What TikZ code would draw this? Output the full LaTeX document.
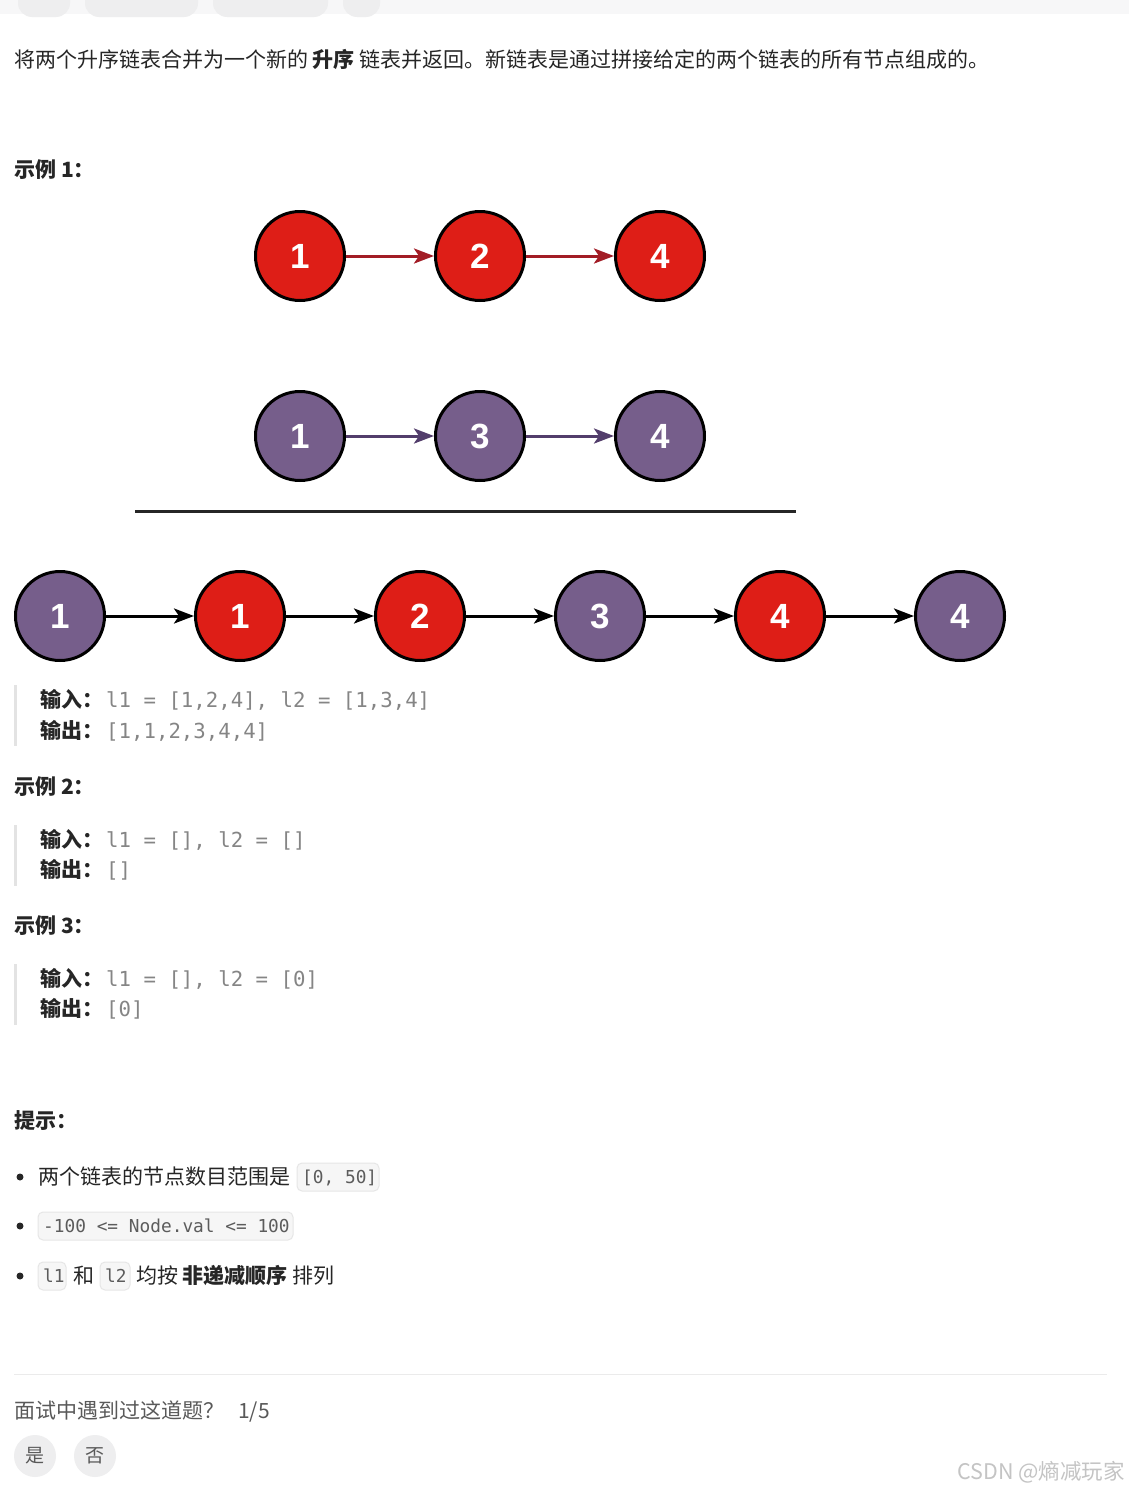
\documentclass[tikz,border=0pt]{standalone}
\usepackage{fontspec}
\setmainfont{Noto Sans CJK SC}
\newfontfamily\cjk{Noto Sans CJK SC}
\newfontfamily\codef{DejaVu Sans Mono}
\newfontfamily\numf{Liberation Sans}
\usetikzlibrary{arrows.meta}
\definecolor{txtc}{HTML}{262626}
\definecolor{qcode}{HTML}{858585}
\definecolor{icode}{HTML}{5C5C5C}
\definecolor{cbox}{HTML}{F6F6F6}
\definecolor{cboxb}{HTML}{E6E6E6}
\definecolor{lred}{HTML}{DE1E17}
\definecolor{lpur}{HTML}{765E8B}
\definecolor{ared}{HTML}{A21C25}
\definecolor{apur}{HTML}{523D6B}
\definecolor{band}{HTML}{F7F7F8}
\definecolor{pill}{HTML}{EEEEEF}
\definecolor{qbar}{HTML}{E3E3E3}
\definecolor{sepc}{HTML}{EBEBEB}
\definecolor{grayt}{HTML}{595959}
\definecolor{wmark}{HTML}{C4C4C4}
\tikzset{
  txt/.style={anchor=base west, inner sep=0pt, text=txtc, font=\cjk\fontsize{21}{24}\selectfont},
  qc/.style={anchor=base west, inner sep=0pt, text=qcode, font=\codef\fontsize{20.7}{24}\selectfont},
  ic/.style={anchor=base west, inner sep=0pt, text=icode, font=\codef\fontsize{17.8}{20}\selectfont},
  cbx/.style={fill=cbox, draw=cboxb, line width=1pt, rounded corners=5pt},
  lnode/.style={circle, minimum size=89pt, inner sep=0pt, draw=black, line width=3pt, text=white, font=\numf\bfseries\fontsize{35}{35}\selectfont},
  rnode/.style={lnode, fill=lred},
  pnode/.style={lnode, fill=lpur},
  arrbase/.style={line width=3pt, -{Stealth[length=20pt,width=15pt,inset=5pt]}},
  rarr/.style={arrbase, draw=ared},
  parr/.style={arrbase, draw=apur},
  karr/.style={arrbase, draw=black},
  qbarst/.style={fill=qbar, draw=none},
  bul/.style={circle, fill=txtc, inner sep=0pt, minimum size=7pt},
}
\begin{document}
\begin{tikzpicture}[x=1pt,y=-1pt]
\useasboundingbox (0,0) rectangle (1129,1491);
\fill[white] (0,0) rectangle (1129,1491);
% top band
\fill[band] (0,0) rectangle (1129,14);
\fill[pill, rounded corners=14pt] (18,-30) rectangle (70,17);
\fill[pill, rounded corners=14pt] (85,-30) rectangle (198,17);
\fill[pill, rounded corners=14pt] (213,-30) rectangle (328,17);
\fill[pill, rounded corners=14pt] (343,-30) rectangle (380,17);
% description
\node[txt] (desc) at (14,67) {将两个升序链表合并为一个新的 \textbf{升序} 链表并返回。新链表是通过拼接给定的两个链表的所有节点组成的。};
\node[txt] (ex1) at (14,177) {\textbf{示例 1：}};
% row 1
\node[rnode] (a1) at (300,256) {1};
\node[rnode] (a2) at (480,256) {2};
\node[rnode] (a3) at (660,256) {4};
\draw[rarr] (a1) -- (a2);
\draw[rarr] (a2) -- (a3);
% row 2
\node[pnode] (b1) at (300,436) {1};
\node[pnode] (b2) at (480,436) {3};
\node[pnode] (b3) at (660,436) {4};
\draw[parr] (b1) -- (b2);
\draw[parr] (b2) -- (b3);
% divider
\coordinate (dl) at (135,511);
\coordinate (dr) at (796,511);
\draw[line width=3pt, draw=black!85] (dl) -- (dr);
% row 3
\node[pnode] (c1) at (60,616) {1};
\node[rnode] (c2) at (240,616) {1};
\node[rnode] (c3) at (420,616) {2};
\node[pnode] (c4) at (600,616) {3};
\node[rnode] (c5) at (780,616) {4};
\node[pnode] (c6) at (960,616) {4};
\draw[karr] (c1) -- (c2);
\draw[karr] (c2) -- (c3);
\draw[karr] (c3) -- (c4);
\draw[karr] (c4) -- (c5);
\draw[karr] (c5) -- (c6);
% example 1 quote
\fill[qbarst] (14,685) rectangle (17,746);
\node[txt] (in1) at (40,707) {\textbf{输入：}};
\node[qc] (in1c) at (106,707) {l1 = [1,2,4], l2 = [1,3,4]};
\node[txt] (out1) at (40,738) {\textbf{输出：}};
\node[qc] (out1c) at (106,738) {[1,1,2,3,4,4]};
% example 2
\node[txt] (ex2) at (14,794) {\textbf{示例 2：}};
\fill[qbarst] (14,825) rectangle (17,886);
\node[txt] (in2) at (40,847) {\textbf{输入：}};
\node[qc] (in2c) at (106,847) {l1 = [], l2 = []};
\node[txt] (out2) at (40,877) {\textbf{输出：}};
\node[qc] (out2c) at (106,877) {[]};
% example 3
\node[txt] (ex3) at (14,933) {\textbf{示例 3：}};
\fill[qbarst] (14,964) rectangle (17,1025);
\node[txt] (in3) at (40,986) {\textbf{输入：}};
\node[qc] (in3c) at (106,986) {l1 = [], l2 = [0]};
\node[txt] (out3) at (40,1016) {\textbf{输出：}};
\node[qc] (out3c) at (106,1016) {[0]};
% hints
\node[txt] (hint) at (14,1128) {\textbf{提示：}};
\node[bul] (bu1) at (20,1177) {};
\node[bul] (bu2) at (20,1226) {};
\node[bul] (bu3) at (20,1276) {};
\node[txt] (h1) at (38,1184) {两个链表的节点数目范围是};
\draw[cbx] (297,1163) rectangle (379,1191);
\node[ic] (h1c) at (302,1183) {[0, 50]};
\draw[cbx] (38,1212) rectangle (293,1240);
\node[ic] (h2c) at (43,1232) {-100 <= Node.val <= 100};
\draw[cbx] (38,1262) rectangle (66,1290);
\node[ic] (h3a) at (43,1282) {l1};
\node[txt] (h3b) at (73,1283) {和};
\draw[cbx] (100,1262) rectangle (130,1290);
\node[ic] (h3c) at (105,1282) {l2};
\node[txt] (h3d) at (136,1283) {均按 \textbf{非递减顺序} 排列};
% footer
\draw[sepc, line width=1pt] (14,1374) -- (1107,1374);
\node[txt, text=grayt] (q) at (14,1418) {面试中遇到过这道题？};
\node[txt, text=grayt] (qn) at (238,1418) {1/5};
\node[circle, fill=pill, minimum size=42pt, inner sep=0pt, text=grayt, font=\cjk\fontsize{19}{20}\selectfont] (yes) at (35,1456) {是};
\node[circle, fill=pill, minimum size=42pt, inner sep=0pt, text=grayt, font=\cjk\fontsize{19}{20}\selectfont] (no) at (95,1456) {否};
\node[anchor=base east, inner sep=0pt, text=wmark, font=\cjk\fontsize{21.5}{24}\selectfont] (wm) at (1125,1479) {CSDN @熵减玩家};
\end{tikzpicture}
\end{document}
